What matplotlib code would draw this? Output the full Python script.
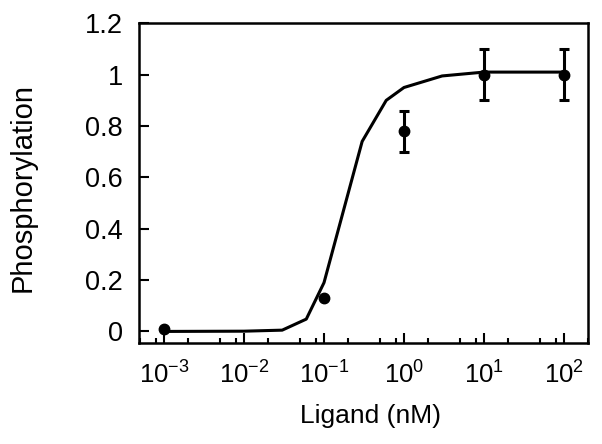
import matplotlib
matplotlib.use("Agg")
import matplotlib.pyplot as plt
from matplotlib.ticker import FixedLocator, FixedFormatter, NullFormatter
import numpy as np

plt.rcParams['font.family'] = ['Liberation Sans', 'DejaVu Sans']
plt.rcParams['mathtext.fontset'] = 'custom'
plt.rcParams['mathtext.rm'] = 'Liberation Sans'
plt.rcParams['mathtext.it'] = 'Liberation Sans'
plt.rcParams['mathtext.default'] = 'regular'

# fitted curve
curve_x = [0.001, 0.01, 0.03, 0.06, 0.1, 0.3, 0.6, 1, 3, 10, 100]
curve_y = [0.0, 0.001, 0.005, 0.048, 0.19, 0.74, 0.90, 0.95, 0.995, 1.01, 1.01]

# data points
data_x = [0.001, 0.1, 1, 10, 100]
data_y = [0.01, 0.13, 0.78, 1.0, 1.0]
data_err = [0.0, 0.0, 0.08, 0.1, 0.1]

xticks = [1e-3, 1e-2, 1e-1, 1e0, 1e1, 1e2]
xticklabels = ['$10^{-3}$', '$10^{-2}$', '$10^{-1}$', '$10^{0}$', '$10^{1}$', '$10^{2}$']
yticks = [0, 0.2, 0.4, 0.6, 0.8, 1.0, 1.2]
yticklabels = ['0', '0.2', '0.4', '0.6', '0.8', '1', '1.2']

fig = plt.figure(figsize=(6.02, 4.44), dpi=100)
ax = fig.add_axes([0.2314, 0.2275, 0.7458, 0.72])

ax.plot(curve_x, curve_y, color='black', lw=2.2, solid_joinstyle='round')
ax.errorbar(data_x, data_y, yerr=data_err, fmt='o',
            color='black', ms=7.5, elinewidth=2.2, capsize=3.5, capthick=2.2)

ax.set_xscale('log')
ax.set_xlim(10**-3.31, 10**2.305)
ax.set_ylim(-0.045, 1.2)

ax.xaxis.set_major_locator(FixedLocator(xticks))
ax.xaxis.set_major_formatter(FixedFormatter(xticklabels))
minors = [m * 10.0**k for k in range(-4, 3) for m in (2, 5, 8)]
ax.xaxis.set_minor_locator(FixedLocator(minors))
ax.xaxis.set_minor_formatter(NullFormatter())
ax.yaxis.set_major_locator(FixedLocator(yticks))
ax.yaxis.set_major_formatter(FixedFormatter(yticklabels))

ax.tick_params(axis='x', which='major', direction='in', length=7, width=1.5,
               labelsize=18.5, pad=13, top=False)
ax.tick_params(axis='x', which='minor', direction='in', length=3.5, width=1.5, top=False)
ax.tick_params(axis='y', which='major', direction='in', length=7.5, width=1.5,
               labelsize=19.5, pad=12, right=False)
for s in ax.spines.values():
    s.set_linewidth(1.8)

ax.set_xlabel('Ligand (nM)', fontsize=19)
ax.set_ylabel('Phosphorylation', fontsize=21)
ax.xaxis.set_label_coords(0.514, -0.19)
ax.yaxis.set_label_coords(-0.228, 0.486)

fig.savefig('out.png', dpi=100)
